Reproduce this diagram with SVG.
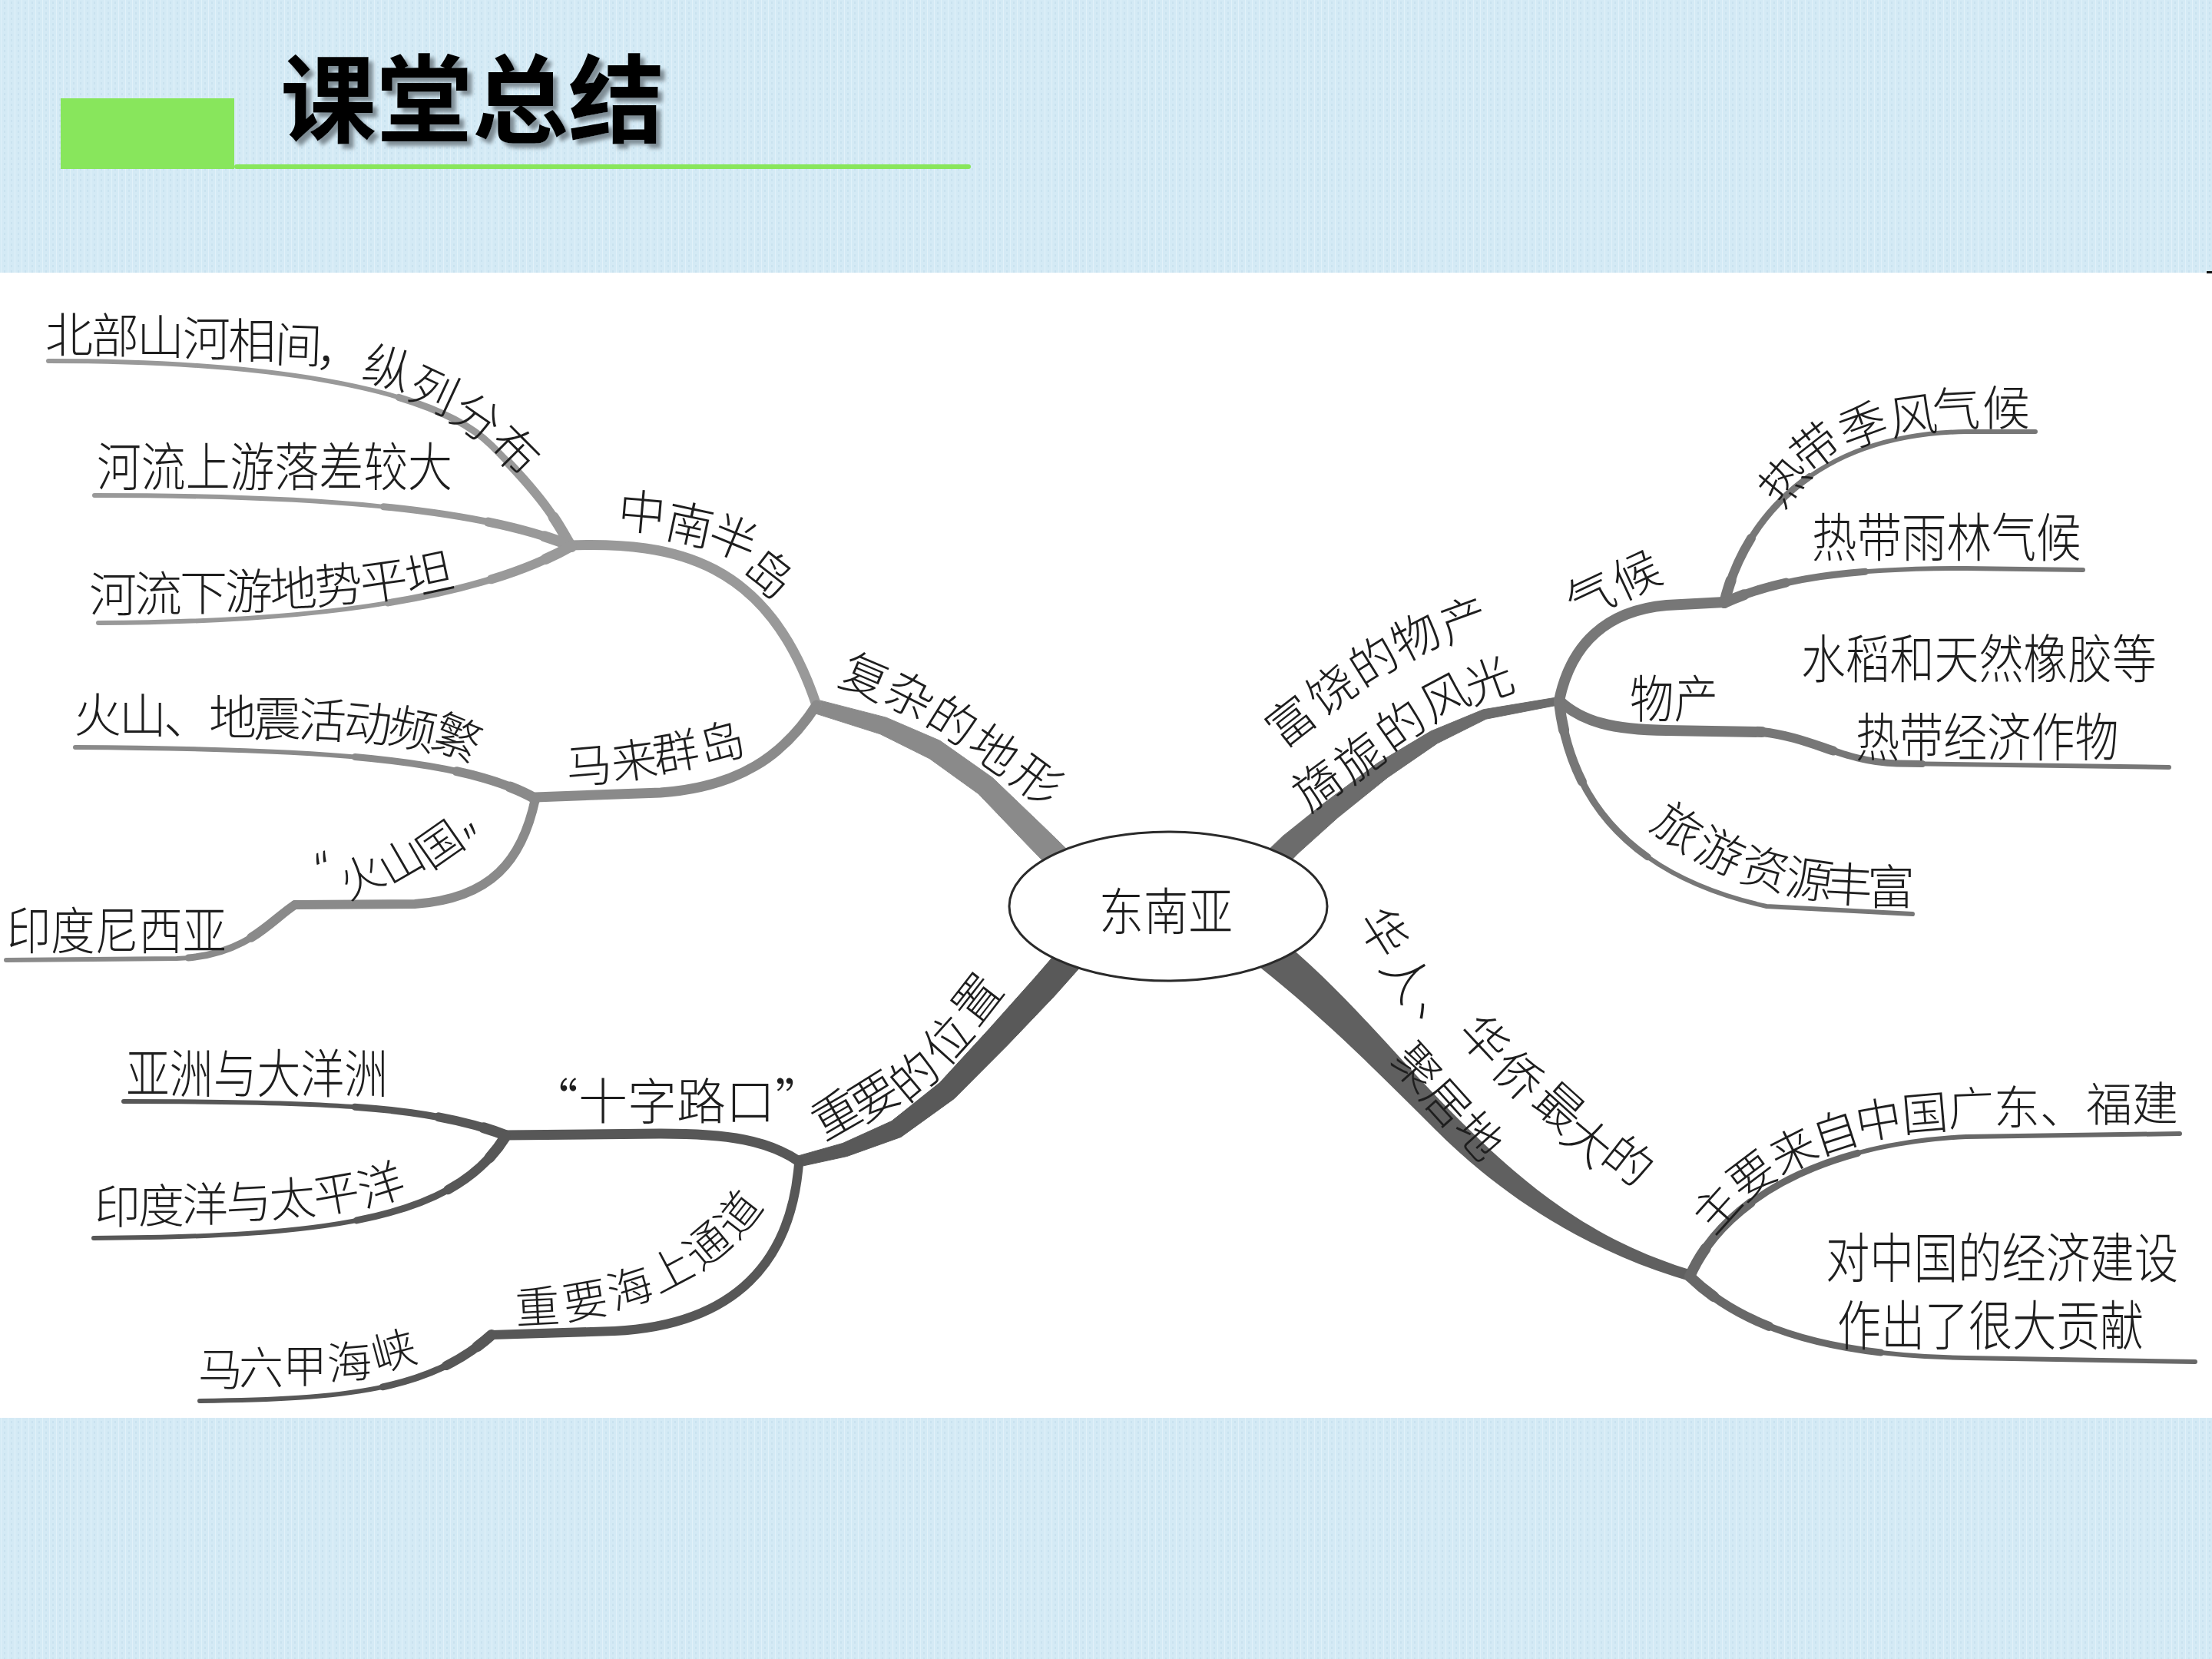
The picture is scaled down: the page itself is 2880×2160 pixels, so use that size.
<svg xmlns="http://www.w3.org/2000/svg" width="2880" height="2160" viewBox="0 0 2880 2160">
<style>
.t{font-family:"Noto Sans CJK SC","Noto Sans",sans-serif;fill:#1e1e1e;font-weight:300;}
.q{font-family:"Noto Sans","Liberation Sans",sans-serif;}
.f58{font-size:58px}.f60{font-size:60px}.f62{font-size:62px}.f64{font-size:64px}.f66{font-size:66px}.f68{font-size:68px}.f70{font-size:70px}
.lf{fill:none;stroke-width:6;stroke-linecap:round}
.sb{fill:none;stroke-linecap:round}
.te1{fill:none;stroke-width:9;stroke-linecap:round;stroke-dasharray:40 60;stroke-dashoffset:40}
.te2{fill:none;stroke-width:12;stroke-linecap:round;stroke-dasharray:18 82;stroke-dashoffset:18}
.te3{fill:none;stroke-width:14;stroke-linecap:round;stroke-dasharray:6 94;stroke-dashoffset:6}
.ts1{fill:none;stroke-width:9;stroke-linecap:round;stroke-dasharray:40 200}
.ts2{fill:none;stroke-width:12;stroke-linecap:round;stroke-dasharray:18 200}
.ts3{fill:none;stroke-width:14;stroke-linecap:round;stroke-dasharray:6 200}
</style>
<defs>
<pattern id="tx" width="9" height="7" patternUnits="userSpaceOnUse">
 <rect width="9" height="7" fill="#d4eaf5"/>
 <rect x="1" y="0" width="1" height="7" fill="#e1f1f9"/>
 <rect x="5" y="2" width="2" height="3" fill="#c9e2ef"/>
</pattern>
<filter id="sh" x="-10%" y="-20%" width="130%" height="150%">
 <feDropShadow dx="6" dy="6" stdDeviation="2.5" flood-color="#7f8d95" flood-opacity="1"/>
</filter>
<path id="lfA" pathLength="100" d="M63,470 C330,470 560,500 640,580 S730,690 744,712"/>
<path id="lfB" pathLength="100" d="M123,645 C400,645 620,660 744,711"/>
<path id="lfC" pathLength="100" d="M128,811 C450,810 640,770 744,711"/>
<path id="lfD" pathLength="100" d="M98,973 C400,975 600,985 697,1040"/>
<path id="lfE" pathLength="100" d="M8,1250 L230,1248 C320,1245 350,1200 384,1178"/>
<path id="lfF" pathLength="100" d="M161,1434 C420,1434 560,1440 658,1478"/>
<path id="lfG" pathLength="100" d="M122,1612 C420,1610 590,1590 658,1480"/>
<path id="lfH" pathLength="100" d="M260,1824 C450,1822 560,1810 640,1738"/>
<path id="lfI" pathLength="100" d="M2294,953 C2360,960 2400,992 2470,994 L2824,999"/>
<path id="lfJ" pathLength="100" d="M2030,915 C2045,1040 2120,1140 2300,1180 L2490,1190"/>
<path id="lfK" pathLength="100" d="M2245,785 C2270,680 2360,565 2560,562 L2650,562"/>
<path id="lfL" pathLength="100" d="M2245,785 C2320,750 2420,740 2560,740 L2712,742"/>
<path id="lfM" pathLength="100" d="M2200,1662 C2240,1570 2360,1490 2560,1480 L2838,1476"/>
<path id="lfN" pathLength="100" d="M2200,1662 C2260,1720 2360,1765 2560,1768 L2858,1773"/>
</defs>

<rect x="0" y="0" width="2880" height="2160" fill="url(#tx)"/>
<rect x="0" y="355" width="2880" height="1491" fill="#ffffff"/>
<rect x="2873" y="353" width="7" height="3" fill="#111"/>

<g id="title">
 <rect x="79" y="128" width="226" height="92" fill="#88e65c"/>
 <rect x="305" y="214" width="959" height="6" rx="3" fill="#88e65c"/>
 <text x="365" y="176" class="t" font-size="125" style="fill:#000;font-weight:bold" filter="url(#sh)">课堂总结</text>
</g>

<g id="connectors">
 <path fill="#8a8a8a" stroke="#8a8a8a" stroke-width="1" stroke-linejoin="round" d="M1065.5,911.4 L1153.9,934.2 L1223.8,964.3 L1292.1,1012.4 L1361.3,1078.7 L1422,1138 L1398,1162 L1338.7,1101.3 L1273.9,1033.6 L1210.2,987.7 L1146.1,955.8 L1060.5,928.6 Z"/>
 <path fill="#595959" stroke="#595959" stroke-width="1" stroke-linejoin="round" d="M1038.3,1505.2 L1097.2,1488.5 L1161,1459.6 L1223.6,1409.6 L1288.4,1339 L1347,1273.3 L1396.6,1215.9 L1423.4,1240.1 L1373,1296.7 L1311.6,1361 L1242.4,1430.4 L1173,1480.4 L1102.8,1505.5 L1041.7,1518.8 Z"/>
 <path fill="#6c6c6c" stroke="#6c6c6c" stroke-width="1" stroke-linejoin="round" d="M2032.1,907.1 L1931.2,923.8 L1862.7,952.1 L1793.4,993.6 L1724.8,1044.9 L1669.9,1088.9 L1629.2,1128.2 L1650.8,1151.8 L1690.1,1111.1 L1741.2,1065.1 L1806.6,1012.4 L1871.3,967.9 L1934.8,936.2 L2033.9,916.9 Z"/>
 <path fill="#606060" d="M1626,1248 C1716,1318 1789,1391 1869,1471 C1949,1551 2058,1627 2203,1669 L2207,1655 C2062,1613 1971,1529 1891,1449 C1811,1369 1744,1282 1654,1212 Z"/>
 <g stroke="#999999">
  <path class="sb" stroke-width="13" d="M740,710 C880,705 1000,730 1063,918"/>
  <use href="#lfA" class="lf"/><use href="#lfA" class="te1"/><use href="#lfA" class="te2"/><use href="#lfA" class="te3"/>
  <use href="#lfB" class="lf"/><use href="#lfB" class="te1"/><use href="#lfB" class="te2"/><use href="#lfB" class="te3"/>
  <use href="#lfC" class="lf"/><use href="#lfC" class="te1"/><use href="#lfC" class="te2"/><use href="#lfC" class="te3"/>
 </g>
 <g stroke="#8a8a8a">
  <path class="sb" stroke-width="13" d="M1063,918 C1020,985 960,1025 860,1032 L697,1038"/>
  <path class="sb" stroke-width="12" d="M697,1040 C680,1120 640,1170 540,1177 L384,1178"/>
  <use href="#lfD" class="lf"/><use href="#lfD" class="te1"/><use href="#lfD" class="te2"/><use href="#lfD" class="te3"/>
  <use href="#lfE" class="lf"/><use href="#lfE" class="te1"/><use href="#lfE" class="te2"/>
 </g>
 <g stroke="#575757">
  <path class="sb" stroke-width="13" d="M1040,1512 C1000,1485 950,1476 860,1476 L658,1478"/>
  <path class="sb" stroke-width="12" d="M1040,1515 C1030,1640 960,1725 800,1733 L640,1738"/>
  <use href="#lfF" class="lf"/><use href="#lfF" class="te1"/><use href="#lfF" class="te2"/><use href="#lfF" class="te3"/>
  <use href="#lfG" class="lf"/><use href="#lfG" class="te1"/><use href="#lfG" class="te2"/><use href="#lfG" class="te3"/>
  <use href="#lfH" class="lf"/><use href="#lfH" class="te1"/><use href="#lfH" class="te2"/><use href="#lfH" class="te3"/>
 </g>
 <g stroke="#777777">
  <path class="sb" stroke-width="14" d="M2030,912 C2045,840 2090,795 2170,788 L2245,784"/>
  <path class="sb" stroke-width="14" d="M2030,912 C2060,940 2100,950 2170,951 L2294,953"/>
  <use href="#lfI" class="lf"/><use href="#lfI" class="ts1"/><use href="#lfI" class="ts2"/>
  <use href="#lfJ" class="lf"/><use href="#lfJ" class="ts1"/><use href="#lfJ" class="ts2"/><use href="#lfJ" class="ts3"/>
  <use href="#lfK" class="lf"/><use href="#lfK" class="ts1"/><use href="#lfK" class="ts2"/><use href="#lfK" class="ts3"/>
  <use href="#lfL" class="lf"/><use href="#lfL" class="ts1"/><use href="#lfL" class="ts2"/><use href="#lfL" class="ts3"/>
 </g>
 <g stroke="#686868">
  <use href="#lfM" class="lf"/><use href="#lfM" class="ts1"/><use href="#lfM" class="ts2"/><use href="#lfM" class="ts3"/>
  <use href="#lfN" class="lf"/><use href="#lfN" class="ts1"/><use href="#lfN" class="ts2"/><use href="#lfN" class="ts3"/>
 </g>
</g>

<g id="node-center">
 <ellipse cx="1521" cy="1180" rx="207" ry="97" fill="#ffffff" stroke="#2a2a2a" stroke-width="3"/>
 <text class="t f66" transform="translate(1431,1211) scale(0.88,1)">东南亚</text>
</g>

<g id="node-terrain">
 <text class="t f62" x="1089 1147 1202 1256 1312" y="890 912 941 977 1016" rotate="23 27 32 35 36">复杂的地形</text>
</g>
<g id="node-indochina">
 <text class="t f62" x="803 863 918 963" y="687 699 710 745" rotate="5 12 22 38">中南半岛</text>
</g>
<g id="leaf-north">
 <text class="t f62" x="59 119 178 238 297 357 410" y="459 460 462 464 467 471 476" rotate="0 0 0 0 0 2 4">北部山河相间，</text>
 <text class="t f62" x="469 527 582 633" y="493 516 544 580" rotate="15 25 35 45">纵列分布</text>
</g>
<g id="leaf-upstream">
 <text class="t f68" transform="translate(126,633) scale(0.851,1)">河流上游落差较大</text>
</g>
<g id="leaf-downstream">
 <text class="t f62" x="116 175 234 293 352 412 472 533" y="797 796 795 793 791 787 783 776" rotate="0 0 0 0 -3 -5 -8 -12">河流下游地势平坦</text>
</g>
<g id="node-malay">
 <text class="t f60" x="739 799 854 916" y="1021 1016 1006 996" rotate="-5 -8 -10 -15">马来群岛</text>
</g>
<g id="leaf-volcano">
 <text class="t f62" x="96 155 213 272 330 388 446 502 558" y="954 955 956 957 959 959 961 965 970" rotate="0 0 0 0 0 3 6 12 22">火山、地震活动频繁</text>
</g>
<g id="node-volcano-country">
 <text class="t f58"><tspan class="q" x="421" y="1152" rotate="-20">“</tspan><tspan x="453 508 561" y="1172 1154 1133" rotate="-25 -30 -35">火山国</tspan><tspan class="q" x="627" y="1114" rotate="-40">”</tspan></text>
</g>
<g id="leaf-indonesia">
 <text class="t f66" transform="translate(9,1236) scale(0.867,1)">印度尼西亚</text>
</g>
<g id="node-position">
 <text class="t f62" x="1073 1124 1181 1230 1271" y="1486 1463 1438 1392 1339" rotate="-30 -32 -40 -48 -52">重要的位置</text>
</g>
<g id="node-crossroads">
 <text x="689" y="1457" class="t f64">“十字路口”</text>
</g>
<g id="leaf-asia">
 <text class="t f68" transform="translate(164,1423) scale(0.836,1)">亚洲与大洋洲</text>
</g>
<g id="leaf-ocean">
 <text class="t f60" x="123 180 237 295 353 412 474" y="1593 1592 1590 1588 1585 1581 1573" rotate="0 0 0 -3 -5 -10 -18">印度洋与太平洋</text>
</g>
<g id="node-sea-route">
 <text class="t f58" x="672 737 799 857 912 960" y="1724 1719 1706 1685 1656 1617" rotate="-3 -10 -18 -28 -40 -52">重要海上通道</text>
</g>
<g id="leaf-malacca">
 <text class="t f58" x="258 311 368 428 490" y="1804 1802 1800 1797 1787" rotate="0 0 0 -5 -15">马六甲海峡</text>
</g>
<g id="node-products">
 <text class="t f62" x="1670 1722 1774 1826 1884" y="976 934 896 863 839" rotate="-38 -36 -32 -27 -20">富饶的物产</text>
 <text class="t f62" x="1704 1759 1811 1864 1917" y="1059 1023 980 942 918" rotate="-36 -37 -35 -28 -20">旖旎的风光</text>
</g>
<g id="node-climate">
 <text class="t f62" x="2052 2112" y="809 782" rotate="-25 -25">气候</text>
</g>
<g id="leaf-monsoon">
 <text class="t f62" x="2320 2353 2404 2463 2517 2581" y="664 619 586 568 557 554" rotate="-50 -38 -20 -8 -3 0">热带季风气候</text>
</g>
<g id="leaf-rainforest">
 <text class="t f68" transform="translate(2359,725) scale(0.86,1)">热带雨林气候</text>
</g>
<g id="node-goods">
 <text class="t f66" transform="translate(2122,934) scale(0.87,1)">物产</text>
</g>
<g id="leaf-crops">
 <text class="t f68" transform="translate(2345,883) scale(0.851,1)">水稻和天然橡胶等</text>
 <text class="t f68" transform="translate(2416,985) scale(0.84,1)">热带经济作物</text>
</g>
<g id="leaf-tourism">
 <text class="t f62" x="2146 2202 2262 2322 2375 2431" y="1078 1116 1145 1163 1173 1178" rotate="35 25 15 8 3 0">旅游资源丰富</text>
</g>
<g id="node-chinese">
 <text class="t f62" x="1766 1795 1840 1895 1939 1992 2029 2082" y="1199 1259 1310 1346 1395 1437 1483 1510" rotate="58 56 52 47 44 42 40 38">华人、华侨最大的</text>
 <text class="t f60" x="1809 1847 1889" y="1382 1428 1471" rotate="48 48 48">聚居地</text>
</g>
<g id="leaf-origin">
 <text class="t f60" x="2231 2270 2318 2368 2420 2478 2537 2596 2656 2716 2776" y="1610 1566 1531 1505 1485 1474 1466 1464 1463 1460 1459" rotate="-48 -37 -27 -18 -10 -5 -2 0 0 0 0">主要来自中国广东、福建</text>
</g>
<g id="leaf-contribution">
 <text class="t f70" transform="translate(2377,1664) scale(0.82,1)">对中国的经济建设</text>
 <text class="t f70" transform="translate(2392,1752) scale(0.815,1)">作出了很大贡献</text>
</g>
</svg>
